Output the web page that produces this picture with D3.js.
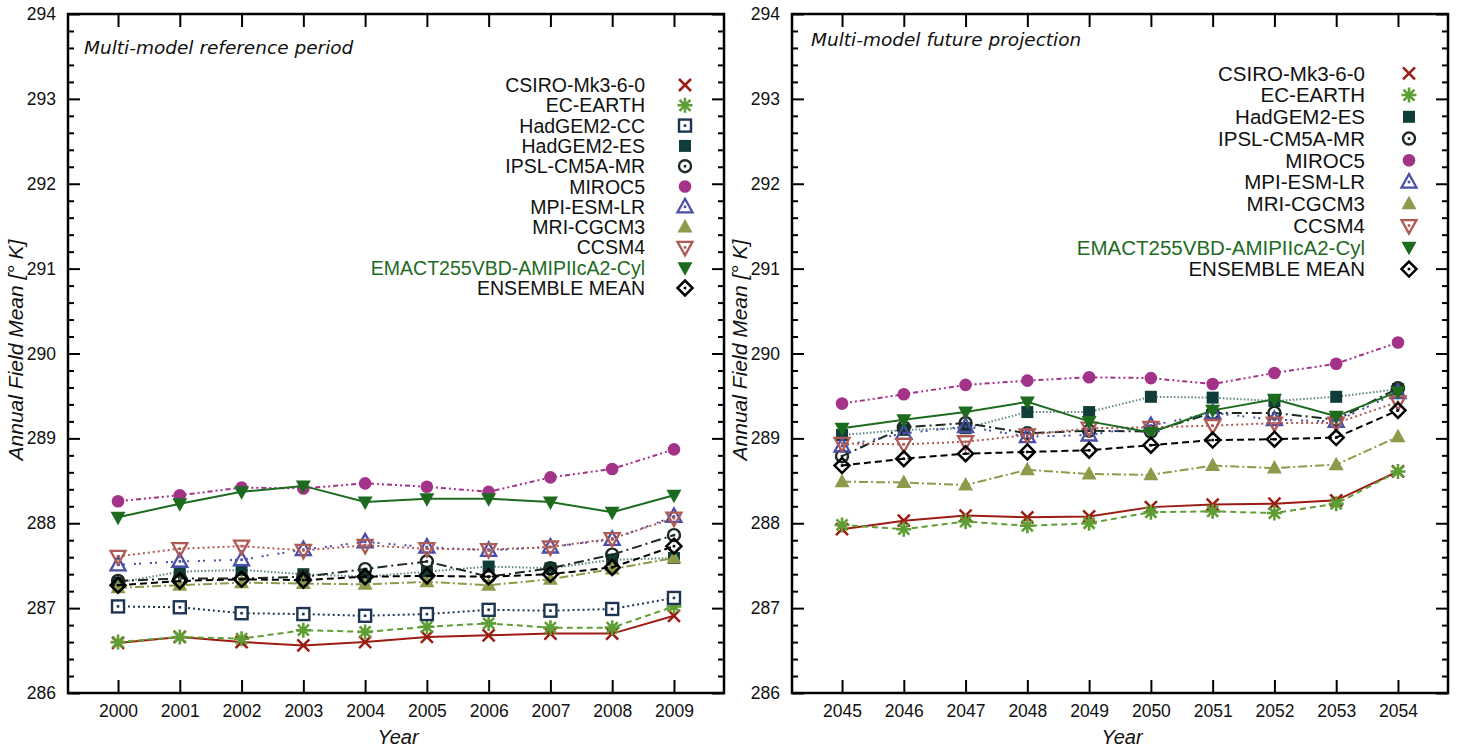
<!DOCTYPE html>
<html>
<head>
<meta charset="utf-8">
<script src="https://cdn.jsdelivr.net/npm/d3@7"></script>
<style>
  body { margin: 0; background: #fff; }
  svg { display: block; }
</style>
</head>
<body>
<div id="chart"></div>
<script>
// years on the x axis of each panel
var yearsRef = [2000, 2001, 2002, 2003, 2004, 2005, 2006, 2007, 2008, 2009];
var yearsFut = [2045, 2046, 2047, 2048, 2049, 2050, 2051, 2052, 2053, 2054];
var yTicks = [286, 287, 288, 289, 290, 291, 292, 293, 294];

// reference period 2000-2009
var refCSIRO    = [286.59, 286.66, 286.60, 286.56, 286.60, 286.66, 286.68, 286.70, 286.70, 286.91];
var refECEARTH  = [286.60, 286.66, 286.64, 286.74, 286.72, 286.78, 286.82, 286.77, 286.77, 287.02];
var refHadCC    = [287.02, 287.01, 286.94, 286.93, 286.91, 286.93, 286.98, 286.97, 286.99, 287.12];
var refHadES    = [287.30, 287.43, 287.45, 287.40, 287.37, 287.43, 287.49, 287.47, 287.57, 287.59];
var refIPSL     = [287.32, 287.35, 287.35, 287.37, 287.46, 287.55, 287.37, 287.47, 287.63, 287.86];
var refMIROC5   = [288.26, 288.33, 288.42, 288.41, 288.47, 288.43, 288.37, 288.54, 288.64, 288.87];
var refMPI      = [287.51, 287.55, 287.57, 287.69, 287.78, 287.72, 287.68, 287.72, 287.81, 288.08];
var refMRI      = [287.24, 287.27, 287.30, 287.29, 287.28, 287.31, 287.27, 287.34, 287.46, 287.59];
var refCCSM4    = [287.61, 287.70, 287.73, 287.68, 287.74, 287.70, 287.69, 287.72, 287.82, 288.06];
var refEMACT    = [288.07, 288.23, 288.37, 288.44, 288.25, 288.29, 288.29, 288.25, 288.13, 288.33];
var refENSEMBLE = [287.27, 287.32, 287.34, 287.33, 287.37, 287.38, 287.37, 287.40, 287.48, 287.73];

// future projection 2045-2054
var futCSIRO    = [287.93, 288.03, 288.09, 288.07, 288.08, 288.19, 288.22, 288.23, 288.27, 288.61];
var futECEARTH  = [287.98, 287.93, 288.02, 287.97, 288.00, 288.13, 288.14, 288.12, 288.23, 288.61];
var futHadES    = [289.04, 289.10, 289.12, 289.31, 289.31, 289.49, 289.48, 289.44, 289.49, 289.58];
var futIPSL     = [288.79, 289.13, 289.18, 289.06, 289.09, 289.08, 289.30, 289.30, 289.22, 289.59];
var futMIROC5   = [289.41, 289.52, 289.63, 289.68, 289.72, 289.71, 289.64, 289.77, 289.88, 290.13];
var futMPI      = [288.91, 289.06, 289.14, 289.02, 289.04, 289.15, 289.30, 289.22, 289.20, 289.54];
var futMRI      = [288.49, 288.48, 288.45, 288.63, 288.58, 288.57, 288.68, 288.65, 288.69, 289.02];
var futCCSM4    = [288.94, 288.93, 288.96, 289.04, 289.12, 289.13, 289.15, 289.18, 289.18, 289.43];
var futEMACT    = [289.12, 289.22, 289.31, 289.43, 289.20, 289.07, 289.33, 289.46, 289.26, 289.55];
var futENSEMBLE = [288.68, 288.76, 288.82, 288.84, 288.86, 288.92, 288.98, 288.99, 289.01, 289.33];

// how each model is drawn
var styles = {
    "CSIRO-Mk3-6-0":              {color: "#9b1c12", marker: "x",       dash: null},
    "EC-EARTH":                   {color: "#5f9e35", marker: "star",    dash: "6,4"},
    "HadGEM2-CC":                 {color: "#1d3552", marker: "sqOpen",  dash: "2,3"},
    "HadGEM2-ES":                 {color: "#0f3d3a", marker: "sqFill",  dash: "1.5,2", line: "#5f8482"},
    "IPSL-CM5A-MR":               {color: "#1c2a22", marker: "cirOpen", dash: "10,4,2,4"},
    "MIROC5":                     {color: "#a33289", marker: "cirFill", dash: "5,3,2,3,2,3"},
    "MPI-ESM-LR":                 {color: "#4b4fa6", marker: "triOpen", dash: "2,3,2,9"},
    "MRI-CGCM3":                  {color: "#8d9a4a", marker: "triFill", dash: "9,3,2,3"},
    "CCSM4":                      {color: "#b05a55", marker: "dtriOpen", dash: "2,3"},
    "EMACT255VBD-AMIPIIcA2-Cyl":  {color: "#1d6b1f", marker: "dtriFill", dash: null},
    "ENSEMBLE MEAN":              {color: "#000000", marker: "diamond", dash: "7,4"}
};

var panels = [
    {
        title: "Multi-model reference period",
        years: yearsRef,
        left: 68, right: 724,
        titleX: 84, titleY: 54,
        legX: 645, legY: 85, legStep: 20.3, legFont: 19.5, legMark: 685,
        series: [
            ["CSIRO-Mk3-6-0", refCSIRO], ["EC-EARTH", refECEARTH], ["HadGEM2-CC", refHadCC],
            ["HadGEM2-ES", refHadES], ["IPSL-CM5A-MR", refIPSL], ["MIROC5", refMIROC5],
            ["MPI-ESM-LR", refMPI], ["MRI-CGCM3", refMRI], ["CCSM4", refCCSM4],
            ["EMACT255VBD-AMIPIIcA2-Cyl", refEMACT], ["ENSEMBLE MEAN", refENSEMBLE]
        ]
    },
    {
        title: "Multi-model future projection",
        years: yearsFut,
        left: 792, right: 1448,
        titleX: 811, titleY: 46,
        legX: 1365, legY: 73.3, legStep: 21.75, legFont: 20.5, legMark: 1409,
        series: [
            ["CSIRO-Mk3-6-0", futCSIRO], ["EC-EARTH", futECEARTH], ["HadGEM2-ES", futHadES],
            ["IPSL-CM5A-MR", futIPSL], ["MIROC5", futMIROC5], ["MPI-ESM-LR", futMPI],
            ["MRI-CGCM3", futMRI], ["CCSM4", futCCSM4],
            ["EMACT255VBD-AMIPIIcA2-Cyl", futEMACT], ["ENSEMBLE MEAN", futENSEMBLE]
        ]
    }
];

var plotTop = 14, plotBottom = 693;
var sans = "'Liberation Sans', Arial, sans-serif";

var svg = d3.select("#chart").append("svg")
    .attr("width", 1457)
    .attr("height", 749);

var y = d3.scaleLinear().domain([286, 294]).range([plotBottom, plotTop]);

function drawMarker(g, kind, color, cx, cy) {
    var m = g.append("g").attr("transform", "translate(" + cx + "," + cy + ")");
    var s = 6;
    if (kind == "x") {
        m.append("path").attr("d", "M-6,-6L6,6M-6,6L6,-6")
            .attr("stroke", color).attr("stroke-width", 2.5).attr("fill", "none");
    } else if (kind == "star") {
        m.append("path").attr("d", "M-5.5,-5.5L5.5,5.5M-5.5,5.5L5.5,-5.5M0,-7.5L0,7.5M-7.5,0L7.5,0")
            .attr("stroke", color).attr("stroke-width", 2.6).attr("fill", "none");
    } else if (kind == "sqOpen" || kind == "sqFill") {
        m.append("rect").attr("x", -s).attr("y", -s).attr("width", 2 * s).attr("height", 2 * s)
            .attr("fill", kind == "sqFill" ? color : "#fff")
            .attr("stroke", color).attr("stroke-width", kind == "sqFill" ? 0 : 2.4);
    } else if (kind == "cirOpen" || kind == "cirFill") {
        m.append("circle").attr("r", kind == "cirFill" ? 6.3 : 6)
            .attr("fill", kind == "cirFill" ? color : "none")
            .attr("stroke", color).attr("stroke-width", kind == "cirFill" ? 0 : 2.4);
    } else if (kind == "triOpen" || kind == "triFill") {
        m.append("path").attr("d", "M0,-8L7.5,5.5L-7.5,5.5Z")
            .attr("fill", kind == "triFill" ? color : "none")
            .attr("stroke", color).attr("stroke-width", kind == "triFill" ? 0 : 2.3);
    } else if (kind == "dtriOpen" || kind == "dtriFill") {
        m.append("path").attr("d", "M0,8L7.5,-5.5L-7.5,-5.5Z")
            .attr("fill", kind == "dtriFill" ? color : "none")
            .attr("stroke", color).attr("stroke-width", kind == "dtriFill" ? 0 : 2.3);
    } else if (kind == "diamond") {
        m.append("path").attr("d", "M0,-7.5L7.5,0L0,7.5L-7.5,0Z")
            .attr("fill", "none").attr("stroke", color).attr("stroke-width", 2.5);
    }
    // open symbols carry a small centre dot
    if (kind == "sqOpen" || kind == "cirOpen" || kind == "triOpen" || kind == "dtriOpen" || kind == "diamond") {
        m.append("rect").attr("x", -1.3).attr("y", -1.3).attr("width", 2.6).attr("height", 2.6)
            .attr("fill", color);
    }
}

panels.forEach(function (p) {
    var x = d3.scaleLinear()
        .domain([p.years[0] - 0.81, p.years[p.years.length - 1] + 0.81])
        .range([p.left, p.right]);

    var g = svg.append("g");

    // series lines and markers
    p.series.forEach(function (s) {
        var st = styles[s[0]];
        var pts = s[1].map(function (v, i) { return [p.years[i], v]; });
        var line = d3.line()
            .x(function (d) { return x(d[0]); })
            .y(function (d) { return y(d[1]); });
        g.append("path")
            .attr("d", line(pts))
            .attr("fill", "none")
            .attr("stroke", st.line || st.color)
            .attr("stroke-width", 2)
            .attr("stroke-dasharray", st.dash);
        pts.forEach(function (d) {
            drawMarker(g, st.marker, st.color, x(d[0]), y(d[1]));
        });
    });

    // axes, ticks pointing inward on all four sides
    g.append("g")
        .attr("transform", "translate(0," + plotBottom + ")")
        .call(d3.axisBottom(x).tickValues(p.years).tickFormat(d3.format("d"))
            .tickSize(-13).tickPadding(12));
    g.append("g")
        .attr("transform", "translate(0," + plotTop + ")")
        .call(d3.axisTop(x).tickValues(p.years).tickFormat("").tickSize(-13));

    var minor = d3.range(286, 294.001, 0.2).filter(function (v) {
        return Math.abs(v - Math.round(v)) > 0.01;
    });
    g.append("g")
        .attr("transform", "translate(" + p.left + ",0)")
        .call(d3.axisLeft(y).tickValues(yTicks).tickFormat(d3.format("d"))
            .tickSize(-12).tickPadding(12));
    g.append("g")
        .attr("transform", "translate(" + p.left + ",0)")
        .call(d3.axisLeft(y).tickValues(minor).tickFormat("").tickSize(-6));
    g.append("g")
        .attr("transform", "translate(" + p.right + ",0)")
        .call(d3.axisRight(y).tickValues(yTicks).tickFormat("").tickSize(-12));
    g.append("g")
        .attr("transform", "translate(" + p.right + ",0)")
        .call(d3.axisRight(y).tickValues(minor).tickFormat("").tickSize(-6));

    g.selectAll(".domain").remove();
    g.selectAll(".tick line").attr("stroke", "#000").attr("stroke-width", 2);
    g.selectAll(".tick text")
        .attr("fill", "#111")
        .style("font-family", sans)
        .style("font-size", "17.5px");

    g.append("rect")
        .attr("x", p.left).attr("y", plotTop)
        .attr("width", p.right - p.left).attr("height", plotBottom - plotTop)
        .attr("fill", "none").attr("stroke", "#000").attr("stroke-width", 2.5);

    // panel caption
    g.append("text")
        .attr("x", p.titleX).attr("y", p.titleY)
        .style("font-family", "'DejaVu Sans', sans-serif")
        .style("font-style", "italic")
        .style("font-size", "18.5px")
        .attr("fill", "#111")
        .text(p.title);

    // axis titles
    g.append("text")
        .attr("x", (p.left + p.right) / 2 + 2)
        .attr("y", 744)
        .attr("text-anchor", "middle")
        .style("font-family", sans)
        .style("font-style", "italic")
        .style("font-size", "20px")
        .attr("fill", "#111")
        .text("Year");
    g.append("text")
        .attr("transform", "translate(" + (p.left - 45) + ",350) rotate(-90)")
        .attr("text-anchor", "middle")
        .style("font-family", "'Liberation Sans Narrow', 'Liberation Sans', sans-serif")
        .style("font-style", "italic")
        .style("font-size", "21px")
        .attr("fill", "#111")
        .text("Annual Field Mean  [° K]");

    // legend
    var legend = g.selectAll(".legend")
        .data(p.series)
        .enter().append("g")
        .attr("class", "legend")
        .attr("transform", function (d, i) {
            return "translate(0," + (p.legY + i * p.legStep) + ")";
        });
    legend.append("text")
        .attr("x", p.legX)
        .attr("dy", "0.36em")
        .attr("text-anchor", "end")
        .style("font-family", sans)
        .style("font-size", p.legFont + "px")
        .attr("fill", function (d) {
            return d[0] == "EMACT255VBD-AMIPIIcA2-Cyl" ? "#1d6b1f" : "#111";
        })
        .text(function (d) { return d[0]; });
    legend.each(function (d) {
        var st = styles[d[0]];
        drawMarker(d3.select(this), st.marker, st.color, p.legMark, 0);
    });
});
</script>
</body>
</html>
